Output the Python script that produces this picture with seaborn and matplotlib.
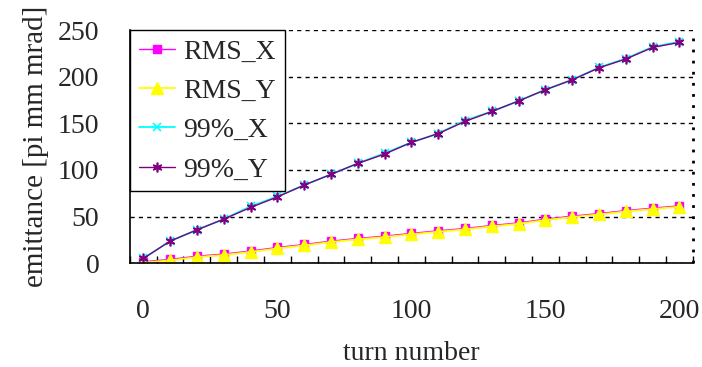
import matplotlib
matplotlib.use("Agg")
import matplotlib.pyplot as plt
import seaborn as sns
import pandas as pd

turns = [0, 10, 20, 30, 40, 50, 60, 70, 80, 90, 100, 110, 120, 130, 140, 150, 160, 170, 180, 190, 200]
rms_x = [1.5, 4, 7.5, 9.7, 13, 16.8, 20, 23.6, 26.5, 29, 31.9, 34.7, 37.2, 40.4, 43.2, 47.2, 50.4, 53.2, 56.4, 59, 61.5]
rms_y = [0.5, 3, 6.5, 8.7, 12, 15.8, 19, 22.6, 25.5, 28, 30.9, 33.7, 36.2, 39.4, 42.2, 46.2, 49.4, 52.2, 55.4, 58, 60.5]
p99_x = [5, 23.6, 35.7, 47.2, 61, 71.5, 83.7, 95.2, 107, 118, 129.5, 139, 153, 162.7, 174, 186, 196.7, 210, 219.5, 232, 237.5]
p99_y = [5, 23.6, 35.7, 47.2, 59.7, 71, 83.7, 95.2, 107, 117, 129.5, 139, 152, 162.7, 174, 186, 196.7, 209.5, 219, 231.4, 236.8]
series_names = ["RMS_X", "RMS_Y", "99%_X", "99%_Y"]

df = pd.DataFrame({
    "turn": turns * 4,
    "value": rms_x + rms_y + p99_x + p99_y,
    "series": sum([[n] * len(turns) for n in series_names], []),
})

sns.set_style("white")
plt.rcParams["font.family"] = ["Liberation Serif", "DejaVu Serif"]

FS = 20

fig = plt.figure(figsize=(7.02, 3.67), dpi=100)
ax = fig.add_axes([0.185, 0.283, 0.802, 0.635])

styles = {
    "RMS_X": dict(color="#FF00FF", marker="s", markersize=6, mew=1, lw=1.0),
    "RMS_Y": dict(color="#FFFF00", marker="^", markersize=8, mew=1, lw=1.3),
    "99%_X": dict(color="#00FFFF", marker="x", markersize=6, mew=1.2, lw=1.3),
    "99%_Y": dict(color="#800080", marker=(6, 2, 0), markersize=7, mew=1.2, lw=1.0),
}
for name in series_names:
    st = styles[name]
    sns.lineplot(data=df[df.series == name], x="turn", y="value", ax=ax,
                 label=name, color=st["color"], marker=st["marker"],
                 markersize=st["markersize"], markeredgecolor=st["color"],
                 markeredgewidth=st["mew"], linewidth=st["lw"])

ax.set_xlim(-5, 205)
ax.set_ylim(0, 250)
ax.set_xticks([0, 50, 100, 150, 200])
ax.set_xticks(list(range(-5, 206, 10)), minor=True)
ax.set_yticks([0, 50, 100, 150, 200, 250])
ax.tick_params(axis="x", which="major", length=0, labelsize=FS, pad=26)
ax.tick_params(axis="x", which="minor", direction="in", length=5, width=1, color="black", bottom=True)
ax.tick_params(axis="y", length=0, labelsize=FS, pad=22)
ax.yaxis.grid(True, color="black", linestyle=(0, (3, 3)), linewidth=1)
ax.set_axisbelow(True)

for s in ["top", "right"]:
    ax.spines[s].set_visible(False)
ax.spines["left"].set_color("black")
ax.spines["bottom"].set_color("black")
ax.spines["left"].set_linewidth(1.2)
ax.spines["bottom"].set_linewidth(1.2)
ax.axvline(205, color="black", linestyle=(0, (1, 3)), linewidth=2, clip_on=False)

ax.set_xlabel("turn number", fontsize=FS, labelpad=12)
ax.set_ylabel("emittance [pi mm mrad]", fontsize=21, labelpad=6)

leg = ax.legend(loc="upper left", bbox_to_anchor=(0, 1), fontsize=FS, frameon=True,
                fancybox=False, edgecolor="black", framealpha=1, borderaxespad=0,
                handlelength=1.3, handletextpad=0.3, labelspacing=0.5, borderpad=0.32)
leg.get_frame().set_linewidth(1.0)

fig.savefig("out.png", dpi=100, facecolor="white")
